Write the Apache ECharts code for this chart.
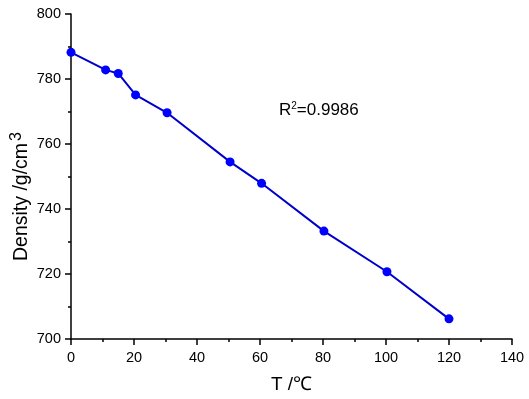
<!DOCTYPE html>
<html>
<head>
<meta charset="utf-8">
<script src="https://cdn.jsdelivr.net/npm/echarts@6/dist/echarts.min.js"></script>
<style>
  html, body { margin: 0; padding: 0; background: #fff; }
  #chart { width: 529px; height: 399px; }
</style>
</head>
<body>
<div id="chart"></div>
<script>
// 温度 (℃) 与密度
const temps = [0, 11, 15, 20.5, 30.5, 50.5, 60.5, 80.3, 100.3, 120];
const density = [788.2, 782.8, 781.7, 775.1, 769.6, 754.5, 747.9, 733.2, 720.7, 706.2];
const r2Label = 'R{sup|2}=0.9986';

const chart = echarts.init(document.getElementById('chart'));
const font = '"Liberation Sans", Arial, sans-serif';

const axisCommon = {
  axisLine: { show: true, onZero: false, lineStyle: { color: '#000', width: 1.5 } },
  axisTick: { show: true, inside: false, length: 6, lineStyle: { color: '#000', width: 1.5 } },
  minorTick: { show: true, splitNumber: 2, length: 3, lineStyle: { color: '#000', width: 1.5 } },
  splitLine: { show: false },
  axisLabel: { color: '#000', fontSize: 14.5, fontFamily: font },
};

const option = {
  animation: false,
  grid: { left: 71, right: 17, top: 14, bottom: 60, outerBoundsMode: 'none', containLabel: false },
  xAxis: {
    type: 'value',
    min: 0,
    max: 140,
    interval: 20,
    ...axisCommon,
    axisLabel: { ...axisCommon.axisLabel, margin: 11 },
    name: 'T /℃',
    nameLocation: 'middle',
    nameGap: 36,
    nameTextStyle: { color: '#000', fontSize: 19, fontFamily: font },
  },
  yAxis: {
    type: 'value',
    min: 700,
    max: 800,
    interval: 20,
    ...axisCommon,
    axisLabel: { ...axisCommon.axisLabel, margin: 10 },
    name: 'Density /g/cm{sup|3}',
    nameLocation: 'middle',
    nameGap: 36,
    nameMoveOverlap: false,
    nameRotate: 90,
    nameTextStyle: {
      color: '#000',
      fontSize: 19.5,
      fontFamily: font,
      padding: [0, 40, 0, 0],
      rich: {
        sup: { fontSize: 16, fontFamily: font, color: '#000', verticalAlign: 'top', padding: [0, 0, 10, 2] },
      },
    },
  },
  graphic: [{
    type: 'text',
    left: 279,
    top: 101,
    style: {
      text: r2Label,
      fill: '#000',
      fontSize: 17,
      fontFamily: font,
      rich: {
        sup: { fontSize: 10, fontFamily: font, fill: '#000', verticalAlign: 'top', padding: [0, 0, 8, 0] },
      },
    },
  }],
  series: [{
    type: 'line',
    data: temps.map((t, i) => [t, density[i]]),
    symbol: 'circle',
    symbolSize: 9,
    lineStyle: { color: '#0000CC', width: 2 },
    itemStyle: { color: '#0000FF' },
  }],
};
chart.setOption(option);
</script>
</body>
</html>
